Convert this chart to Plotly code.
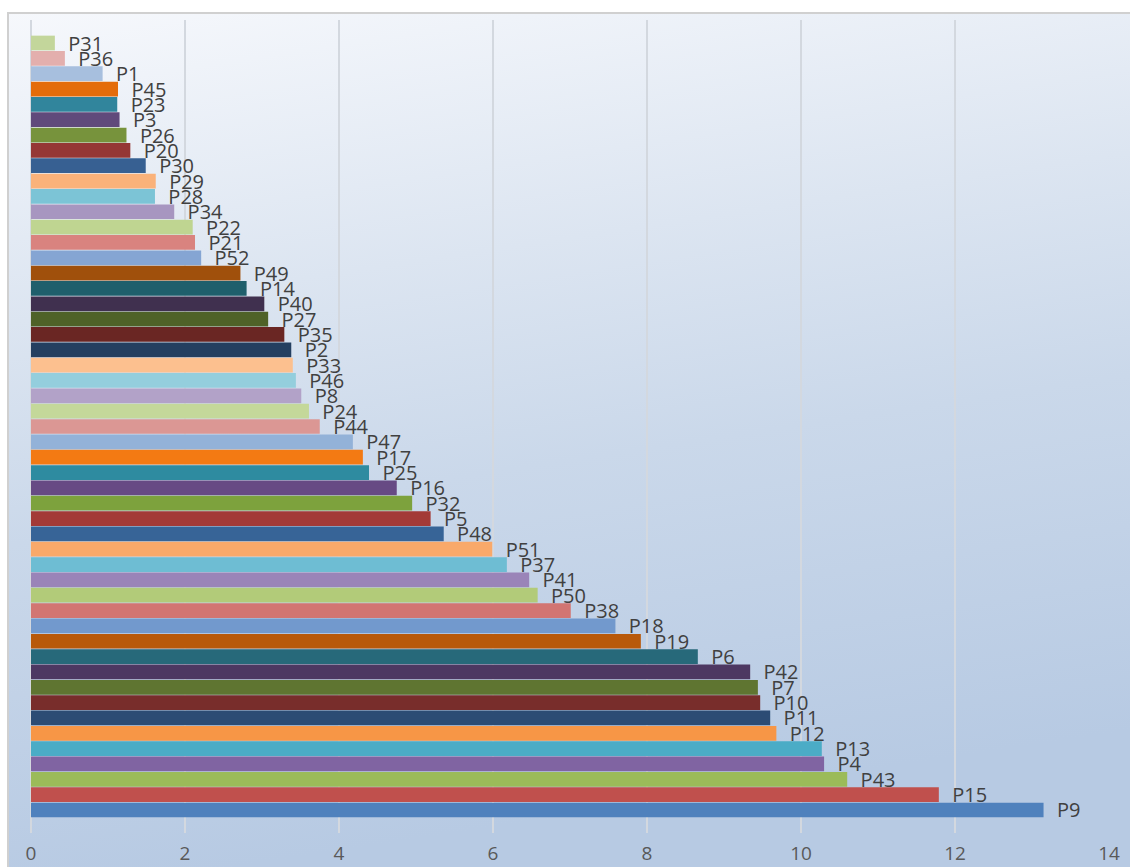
import base64
import plotly.graph_objects as go

# Categories listed top to bottom, with their values
labels = [
    "P31", "P36", "P1", "P45", "P23", "P3", "P26", "P20", "P30", "P29",
    "P28", "P34", "P22", "P21", "P52", "P49", "P14", "P40", "P27", "P35",
    "P2", "P33", "P46", "P8", "P24", "P44", "P47", "P17", "P25", "P16",
    "P32", "P5", "P48", "P51", "P37", "P41", "P50", "P38", "P18", "P19",
    "P6", "P42", "P7", "P10", "P11", "P12", "P13", "P4", "P43", "P15", "P9",
]
values = [
    0.31, 0.44, 0.93, 1.13, 1.12, 1.15, 1.24, 1.29, 1.49, 1.62,
    1.61, 1.86, 2.10, 2.13, 2.21, 2.72, 2.80, 3.03, 3.08, 3.29,
    3.38, 3.40, 3.44, 3.51, 3.61, 3.75, 4.18, 4.31, 4.39, 4.75,
    4.95, 5.19, 5.36, 5.99, 6.18, 6.47, 6.58, 7.01, 7.59, 7.92,
    8.66, 9.34, 9.44, 9.47, 9.60, 9.68, 10.27, 10.30, 10.60, 11.79, 13.15,
]
bar_colors = [
    "#C3D69B", "#E3AFAD", "#A7BFDE", "#E46C0A", "#31859C", "#604A7B", "#77933C", "#953735", "#376092", "#FAB27A",
    "#7CC4D6", "#A796C0", "#BFD591", "#D9837F", "#85A5D3", "#A0500C", "#1F5F6C", "#40304F", "#4F6228", "#6A2623",
    "#243F60", "#FCC08F", "#94CEDD", "#B2A2C8", "#C4D89A", "#DB9794", "#93B2D8", "#F37A13", "#2E8BA0", "#674A84",
    "#7DA23D", "#A33A37", "#376497", "#F9A96A", "#6EBDD3", "#9A84B8", "#B2CB79", "#D27572", "#7299CD", "#B8590A",
    "#27697A", "#4D3862", "#5F7531", "#782D2B", "#2C4C74", "#F79646", "#4BACC6", "#8064A2", "#9BBB59", "#C0504D", "#4F81BD",
]
x_ticks = [0, 2, 4, 6, 8, 10, 12, 14]

W, H = 1130, 867
ML, MR, MT, MB = 31, 21, 20, 34
pw, ph = W - ML - MR, H - MT - MB

# Chart-area backdrop: soft blue gradient with a thin grey frame
bw, bh = W - 7, H - 12
svg = (
    f'<svg xmlns="http://www.w3.org/2000/svg" width="{bw}" height="{bh}" '
    f'viewBox="0 0 {bw} {bh}" preserveAspectRatio="none">'
    '<defs><linearGradient id="g" x1="0" y1="0" x2="0.2" y2="1">'
    '<stop offset="0" stop-color="#f6f8fc"/>'
    '<stop offset="0.35" stop-color="#dce5f1"/>'
    '<stop offset="0.6" stop-color="#cad8ea"/>'
    '<stop offset="1" stop-color="#b7cae3"/>'
    '</linearGradient></defs>'
    f'<rect x="0" y="0" width="{bw}" height="{bh}" fill="url(#g)"/>'
    f'<path d="M1 {bh} V1 H{bw}" stroke="#d0d0d0" stroke-width="2" fill="none"/>'
    '</svg>'
)
bg_src = "data:image/svg+xml;base64," + base64.b64encode(svg.encode()).decode()

fig = go.Figure(
    go.Bar(
        x=values,
        y=labels,
        orientation="h",
        marker=dict(color=bar_colors, line=dict(width=0)),
        text=["\u00a0\u00a0" + s for s in labels],
        textposition="outside",
        textangle=0,
        constraintext="none",
        cliponaxis=False,
        textfont=dict(family="Open Sans", size=20, color="#404040"),
        hoverinfo="x+y",
    )
)

n = len(labels)
fig.update_layout(
    width=W,
    height=H,
    margin=dict(l=ML, r=MR, t=MT, b=MB, pad=0, autoexpand=False),
    paper_bgcolor="white",
    plot_bgcolor="rgba(0,0,0,0)",
    bargap=0.04,
    showlegend=False,
    images=[
        dict(
            source=bg_src,
            xref="paper", yref="paper",
            x=(7 - ML) / pw, y=(H - MB - 12) / ph,
            sizex=bw / pw, sizey=bh / ph,
            xanchor="left", yanchor="top",
            sizing="stretch", layer="below",
        )
    ],
    xaxis=dict(
        range=[0, 14],
        tickvals=x_ticks,
        ticktext=[str(v) for v in x_ticks],
        showgrid=True,
        gridcolor="#d3d8df",
        gridwidth=2,
        zeroline=True,
        zerolinecolor="#d3d8df",
        zerolinewidth=2,
        showline=False,
        ticks="",
        automargin=False,
        ticklabelstandoff=7,
        tickfont=dict(family="Open Sans", size=19, color="#595959"),
        fixedrange=True,
    ),
    yaxis=dict(
        type="category",
        categoryorder="array",
        categoryarray=labels,
        range=[n - 1 + 1.5, -1.5],
        showticklabels=False,
        showgrid=False,
        zeroline=False,
        showline=False,
        ticks="",
        automargin=False,
        fixedrange=True,
    ),
)

fig.write_html("out.html")
